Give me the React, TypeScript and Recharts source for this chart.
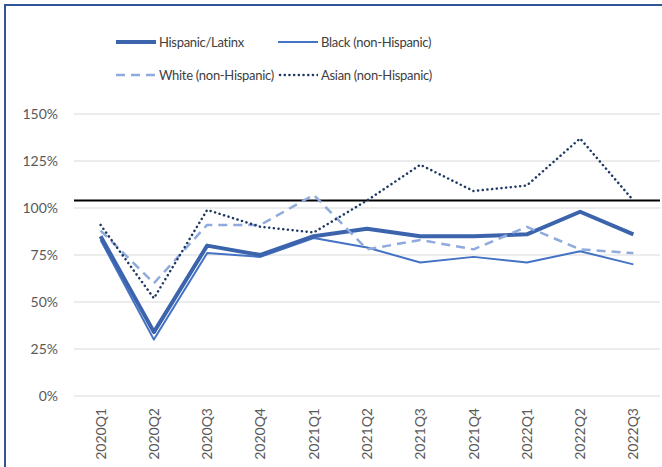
import React from "react";
import { CartesianGrid, Line, LineChart, ReferenceLine, XAxis, YAxis } from "recharts";

const quarters = [
  "2020Q1", "2020Q2", "2020Q3", "2020Q4", "2021Q1", "2021Q2",
  "2021Q3", "2021Q4", "2022Q1", "2022Q2", "2022Q3",
];
const hispanic = [85, 34, 80, 75, 85, 89, 85, 85, 86, 98, 86];
const black = [83, 30, 76, 74, 84, 79, 71, 74, 71, 77, 70];
const white = [88, 60, 91, 91, 107, 78, 83, 78, 90, 78, 76];
const asian = [91, 52, 99, 90, 87, 104, 123, 109, 112, 137, 104];
const yTicks = [0, 25, 50, 75, 100, 125, 150];
const baseline = 104;

const data = quarters.map((q, i) => ({
  q,
  hispanic: hispanic[i],
  black: black[i],
  white: white[i],
  asian: asian[i],
}));

const FONT = "Lato, 'Open Sans', sans-serif";
const TXT = "#595959";

const series = {
  hispanic: { name: "Hispanic/Latinx", color: "#3B64AD", width: 4, dash: undefined, cap: "butt" },
  black: { name: "Black (non-Hispanic)", color: "#4472C4", width: 2, dash: undefined, cap: "butt" },
  white: { name: "White (non-Hispanic)", color: "#8FAADC", width: 2.5, dash: "9 6", cap: "butt" },
  asian: { name: "Asian (non-Hispanic)", color: "#203864", width: 2.5, dash: "0.1 4.6", cap: "round" },
} as const;

function Sample({ k }: { k: keyof typeof series }) {
  const s = series[k];
  return (
    <svg width={40} height={10} style={{ display: "block" }}>
      <line
        x1={s.cap === "round" ? 2 : 0}
        y1={5}
        x2={40}
        y2={5}
        stroke={s.color}
        strokeWidth={s.width}
        strokeDasharray={s.dash}
        strokeLinecap={s.cap}
      />
    </svg>
  );
}

function LegendItem({ k, x, y }: { k: keyof typeof series; x: number; y: number }) {
  return (
    <div
      style={{
        position: "absolute",
        left: x,
        top: y,
        display: "flex",
        alignItems: "center",
        gap: 3,
        fontFamily: FONT,
        fontSize: 13,
        letterSpacing: -0.3,
        color: "#404040",
        whiteSpace: "nowrap",
      }}
    >
      <Sample k={k} />
      <span>{series[k].name}</span>
    </div>
  );
}

export default function App() {
  return (
    <div
      style={{
        position: "fixed",
        left: 0,
        top: 0,
        width: 662,
        height: 467,
        background: "#fff",
        overflow: "hidden",
      }}
    >
      <div
        style={{
          position: "absolute",
          left: 4,
          top: 4,
          width: 700,
          height: 500,
          borderLeft: "2px solid #2F5597",
          borderTop: "2px solid #2F5597",
        }}
      />
      <LegendItem k="hispanic" x={116} y={34} />
      <LegendItem k="black" x={278} y={34} />
      <LegendItem k="white" x={116} y={67} />
      <LegendItem k="asian" x={278} y={67} />
      <div style={{ position: "absolute", left: 0, top: 0 }}>
        <LineChart
          width={662}
          height={467}
          data={data}
          margin={{ top: 114, right: 2, bottom: 0, left: 0 }}
        >
          <CartesianGrid vertical={false} stroke="#D9D9D9" strokeWidth={1} />
          <XAxis
            dataKey="q"
            axisLine={false}
            tickLine={false}
            height={71}
            interval={0}
            padding={{ left: 26.6, right: 26.6 }}
            tick={({ x, y, payload }: any) => (
              <text
                x={0}
                y={0}
                transform={`translate(${Number(x) + 5},${Number(y) + 4}) rotate(-90)`}
                textAnchor="end"
                fontFamily={FONT}
                fontSize={14}
                fill={TXT}
              >
                {payload.value}
              </text>
            )}
          />
          <YAxis
            domain={[0, 150]}
            ticks={yTicks}
            axisLine={false}
            tickLine={false}
            width={74}
            tickFormatter={(v: number) => `${v}%`}
            tick={{ fontFamily: FONT, fontSize: 14, fill: TXT, dx: -8 }}
          />
          <ReferenceLine y={baseline} stroke="#000" strokeWidth={2} />
          {(["black", "hispanic", "white", "asian"] as const).map((k) => (
            <Line
              key={k}
              dataKey={k}
              name={series[k].name}
              stroke={series[k].color}
              strokeWidth={series[k].width}
              strokeDasharray={series[k].dash}
              strokeLinecap={series[k].cap}
              strokeLinejoin="round"
              dot={false}
              activeDot={false}
              isAnimationActive={false}
            />
          ))}
        </LineChart>
      </div>
    </div>
  );
}
